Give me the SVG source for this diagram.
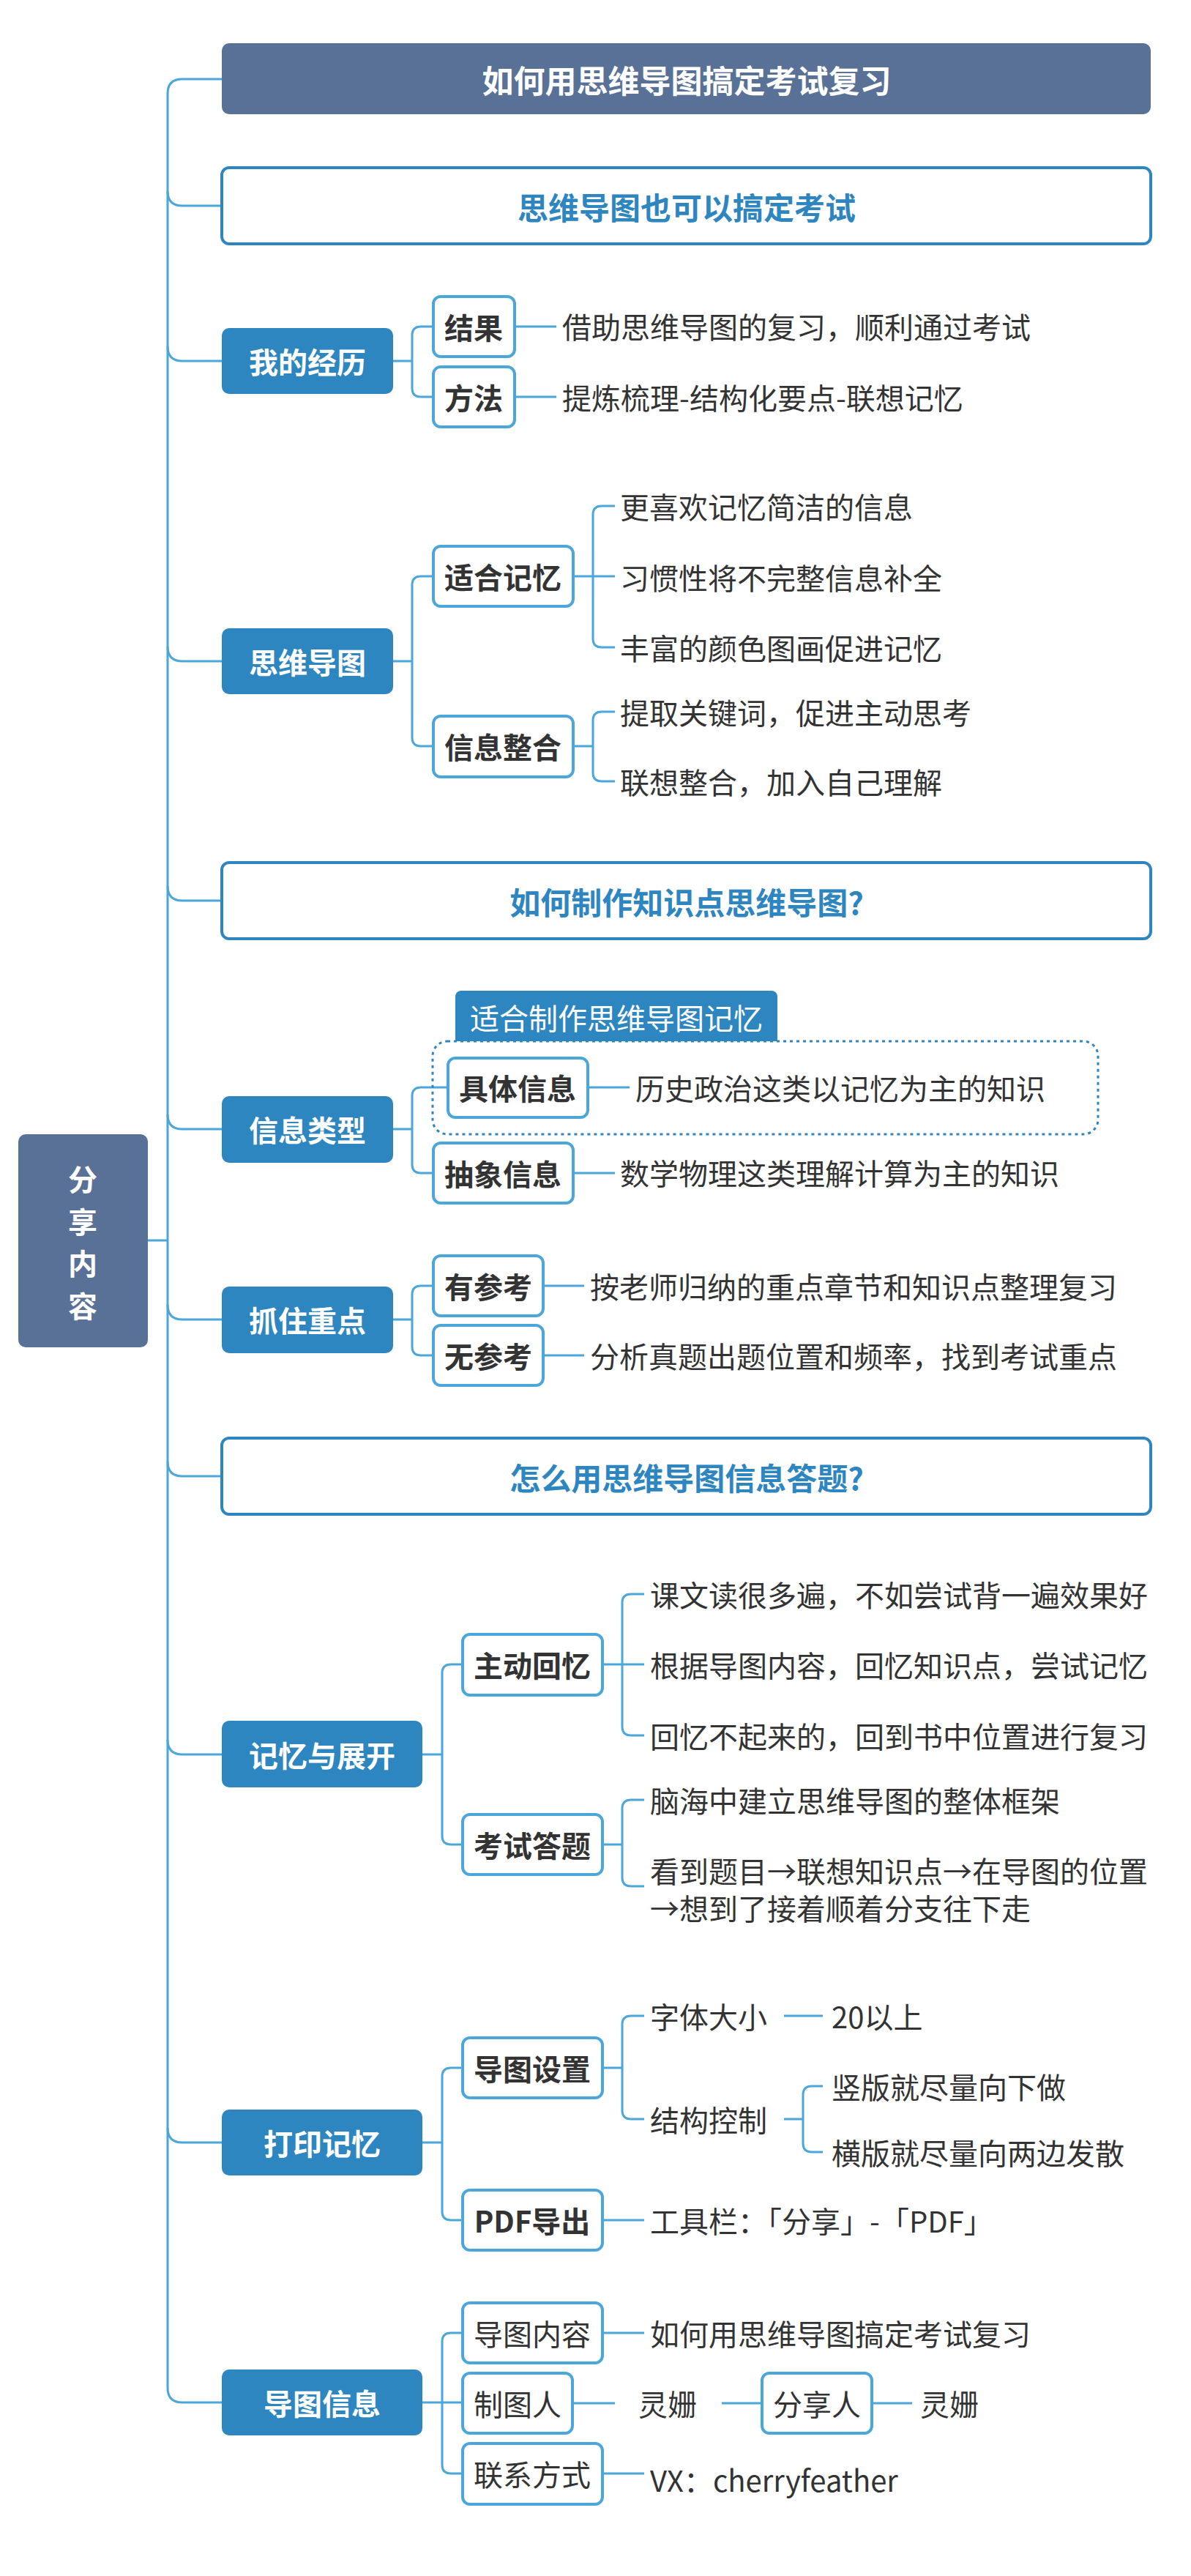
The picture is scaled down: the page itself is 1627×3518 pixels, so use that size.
<svg xmlns="http://www.w3.org/2000/svg" width="1627" height="3518" viewBox="0 0 1627 3518">
<style>
text{font-family:"Noto Sans CJK SC","Liberation Sans",sans-serif;dominant-baseline:central}
.c{fill:none;stroke:#4ba6d9;stroke-width:3}
.dark{fill:#5a7197}
.main{fill:#2e86c1}
.hd{fill:#fff;stroke:#2e86c1;stroke-width:4}
.sub{fill:#fff;stroke:#4ba6d9;stroke-width:4}
.wt{fill:#fff;font-weight:bold;font-size:40px;text-anchor:middle}
.bt{fill:#2e86c1;font-weight:bold;font-size:42px;text-anchor:middle}
.st{fill:#333;font-weight:bold;font-size:40px;text-anchor:middle}
.sn{fill:#333;font-size:40px;text-anchor:middle}
.lf{fill:#333;font-size:40px}
</style>
<g id="connectors">
<path class="c" d="M303,108 H249 Q229,108 229,128 V3261 Q229,3281 249,3281 H303"/>
<path class="c" d="M229,261 Q229,281 249,281 H303 M229,473 Q229,493 249,493 H303 M229,883 Q229,903 249,903 H303 M229,1210 Q229,1230 249,1230 H303 M229,1522 Q229,1542 249,1542 H303 M229,1782 Q229,1802 249,1802 H303 M229,1996 Q229,2016 249,2016 H303 M229,2376 Q229,2396 249,2396 H303 M229,2906 Q229,2926 249,2926 H303 M202,1694 H229"/>
<path class="c" d="M537,493 H563 M563,493 V458 Q563,446 575,446 H592 M563,493 V530 Q563,542 575,542 H592 M703,446 H760 M703,542 H760"/>
<path class="c" d="M537,903 H563 M563,903 V799 Q563,787 575,787 H592 M563,903 V1007 Q563,1019 575,1019 H592"/>
<path class="c" d="M783,787 H810 M810,787 V703 Q810,691 822,691 H840 M810,787 H840 M810,787 V872 Q810,884 822,884 H840"/>
<path class="c" d="M783,1019 H810 M810,1019 V984 Q810,972 822,972 H840 M810,1019 V1055 Q810,1067 822,1067 H840"/>
<path class="c" d="M537,1542 H563 M563,1542 V1497 Q563,1485 575,1485 H612 M563,1542 V1590 Q563,1602 575,1602 H592 M803,1485 H860 M783,1602 H840"/>
<path class="c" d="M537,1802 H563 M563,1802 V1768 Q563,1756 575,1756 H592 M563,1802 V1839 Q563,1851 575,1851 H592 M742,1756 H798 M742,1851 H798"/>
<path class="c" d="M577,2396 H604 M604,2396 V2285 Q604,2273 616,2273 H632 M604,2396 V2507 Q604,2519 616,2519 H632"/>
<path class="c" d="M823,2273 H850 M850,2273 V2189 Q850,2177 862,2177 H880 M850,2273 H880 M850,2273 V2358 Q850,2370 862,2370 H880"/>
<path class="c" d="M823,2519 H850 M850,2519 V2470 Q850,2458 862,2458 H880 M850,2519 V2564 Q850,2576 862,2576 H880"/>
<path class="c" d="M577,2926 H604 M604,2926 V2836 Q604,2824 616,2824 H632 M604,2926 V3020 Q604,3032 616,3032 H632"/>
<path class="c" d="M823,2824 H850 M850,2824 V2765 Q850,2753 862,2753 H880 M850,2824 V2882 Q850,2894 862,2894 H880 M1071,2753 H1124 M1071,2894 H1097 M1097,2894 V2861 Q1097,2849 1109,2849 H1124 M1097,2894 V2927 Q1097,2939 1109,2939 H1124 M823,3032 H880"/>
<path class="c" d="M577,3281 H604 M604,3281 V3198 Q604,3186 616,3186 H632 M604,3281 H632 M604,3281 V3366 Q604,3378 616,3378 H632 M823,3186 H880 M782,3282 H840 M986,3282 H1041 M1191,3282 H1246 M823,3378 H880"/>
</g>
<g id="root"><rect class="dark" x="25" y="1549" width="177" height="291" rx="10"/>
<text class="wt" x="113" y="1609">分</text><text class="wt" x="113" y="1667">享</text><text class="wt" x="113" y="1724">内</text><text class="wt" x="113" y="1782">容</text></g>
<g id="title"><rect class="dark" x="303" y="59" width="1269" height="97" rx="10"/><text class="wt" style="font-size:43px" x="938" y="108">如何用思维导图搞定考试复习</text></g>
<g id="h1"><rect class="hd" x="303" y="229" width="1269" height="104" rx="10"/><text class="bt" x="938" y="281">思维导图也可以搞定考试</text></g>
<g id="n-jingli"><rect class="main" x="303" y="448" width="234" height="90" rx="10"/><text class="wt" x="420" y="493">我的经历</text></g>
<g id="n-jieguo"><rect class="sub" x="592" y="405" width="111" height="82" rx="10"/><text class="st" x="647" y="446">结果</text></g>
<g id="n-fangfa"><rect class="sub" x="592" y="501" width="111" height="82" rx="10"/><text class="st" x="647" y="542">方法</text></g>
<text class="lf" x="768" y="445">借助思维导图的复习，顺利通过考试</text>
<text class="lf" x="768" y="542">提炼梳理-结构化要点-联想记忆</text>
<g id="n-swdt"><rect class="main" x="303" y="858" width="234" height="90" rx="10"/><text class="wt" x="420" y="903">思维导图</text></g>
<g id="n-shjy"><rect class="sub" x="592" y="746" width="191" height="82" rx="10"/><text class="st" x="687" y="787">适合记忆</text></g>
<g id="n-xxzh"><rect class="sub" x="592" y="978" width="191" height="83" rx="10"/><text class="st" x="687" y="1019">信息整合</text></g>
<text class="lf" x="847" y="691">更喜欢记忆简洁的信息</text>
<text class="lf" x="847" y="788">习惯性将不完整信息补全</text>
<text class="lf" x="847" y="884">丰富的颜色图画促进记忆</text>
<text class="lf" x="847" y="972">提取关键词，促进主动思考</text>
<text class="lf" x="847" y="1067">联想整合，加入自己理解</text>
<g id="h2"><rect class="hd" x="303" y="1178" width="1269" height="104" rx="10"/><text class="bt" x="938" y="1230">如何制作知识点思维导图?</text></g>
<g id="callout"><rect x="591" y="1422" width="909" height="127" rx="20" fill="none" stroke="#2e86c1" stroke-width="3" stroke-dasharray="4 5"/>
<rect class="main" x="622" y="1353" width="440" height="69" rx="8"/><rect class="main" x="622" y="1400" width="440" height="22"/><text x="842" y="1389" fill="#fff" font-size="40" text-anchor="middle">适合制作思维导图记忆</text></g>
<g id="n-xxlx"><rect class="main" x="303" y="1497" width="234" height="91" rx="10"/><text class="wt" x="420" y="1542">信息类型</text></g>
<g id="n-jtxx"><rect class="sub" x="612" y="1445" width="191" height="81" rx="10"/><text class="st" x="707" y="1485">具体信息</text></g>
<g id="n-cxxx"><rect class="sub" x="592" y="1561" width="191" height="82" rx="10"/><text class="st" x="687" y="1602">抽象信息</text></g>
<text class="lf" x="868" y="1485">历史政治这类以记忆为主的知识</text>
<text class="lf" x="847" y="1601">数学物理这类理解计算为主的知识</text>
<g id="n-zzzd"><rect class="main" x="303" y="1757" width="234" height="91" rx="10"/><text class="wt" x="420" y="1802">抓住重点</text></g>
<g id="n-yck"><rect class="sub" x="592" y="1715" width="150" height="82" rx="10"/><text class="st" x="667" y="1756">有参考</text></g>
<g id="n-wck"><rect class="sub" x="592" y="1810" width="150" height="82" rx="10"/><text class="st" x="667" y="1851">无参考</text></g>
<text class="lf" x="806" y="1756">按老师归纳的重点章节和知识点整理复习</text>
<text class="lf" x="806" y="1851">分析真题出题位置和频率，找到考试重点</text>
<g id="h3"><rect class="hd" x="303" y="1964" width="1269" height="104" rx="10"/><text class="bt" x="938" y="2016">怎么用思维导图信息答题?</text></g>
<g id="n-jyyzk"><rect class="main" x="303" y="2350" width="274" height="91" rx="10"/><text class="wt" x="440" y="2396">记忆与展开</text></g>
<g id="n-zdhy"><rect class="sub" x="632" y="2232" width="191" height="83" rx="10"/><text class="st" x="727" y="2273">主动回忆</text></g>
<g id="n-ksdt"><rect class="sub" x="632" y="2478" width="191" height="82" rx="10"/><text class="st" x="727" y="2519">考试答题</text></g>
<text class="lf" x="888" y="2177">课文读很多遍，不如尝试背一遍效果好</text>
<text class="lf" x="888" y="2273">根据导图内容，回忆知识点，尝试记忆</text>
<text class="lf" x="888" y="2370">回忆不起来的，回到书中位置进行复习</text>
<text class="lf" x="888" y="2458">脑海中建立思维导图的整体框架</text>
<text class="lf" x="888" y="2554">看到题目→联想知识点→在导图的位置</text>
<text class="lf" x="888" y="2605">→想到了接着顺着分支往下走</text>
<g id="n-dyjy"><rect class="main" x="303" y="2881" width="274" height="90" rx="10"/><text class="wt" x="440" y="2926">打印记忆</text></g>
<g id="n-dtsz"><rect class="sub" x="632" y="2783" width="191" height="82" rx="10"/><text class="st" x="727" y="2824">导图设置</text></g>
<g id="n-pdf"><rect class="sub" x="632" y="2991" width="191" height="82" rx="10"/><text class="st" x="727" y="3032">PDF导出</text></g>
<text class="lf" x="888" y="2753">字体大小</text>
<text class="lf" x="1136" y="2753">20以上</text>
<text class="lf" x="888" y="2894">结构控制</text>
<text class="lf" x="1136" y="2849">竖版就尽量向下做</text>
<text class="lf" x="1136" y="2939">横版就尽量向两边发散</text>
<text class="lf" x="888" y="3032">工具栏：「分享」-「PDF」</text>
<g id="n-dtxx"><rect class="main" x="303" y="3236" width="274" height="90" rx="10"/><text class="wt" x="440" y="3281">导图信息</text></g>
<g id="n-dtnr"><rect class="sub" x="632" y="3145" width="191" height="82" rx="10"/><text class="sn" x="727" y="3186">导图内容</text></g>
<g id="n-ztr"><rect class="sub" x="632" y="3241" width="150" height="82" rx="10"/><text class="sn" x="707" y="3282">制图人</text></g>
<g id="n-fxr"><rect class="sub" x="1041" y="3241" width="150" height="82" rx="10"/><text class="sn" x="1116" y="3282">分享人</text></g>
<g id="n-lxfs"><rect class="sub" x="632" y="3337" width="191" height="83" rx="10"/><text class="sn" x="727" y="3378">联系方式</text></g>
<text class="lf" x="888" y="3186">如何用思维导图搞定考试复习</text>
<text class="lf" x="872" y="3282">灵姗</text>
<text class="lf" x="1257" y="3282">灵姗</text>
<text class="lf" x="888" y="3386">VX：cherryfeather</text>
</svg>
